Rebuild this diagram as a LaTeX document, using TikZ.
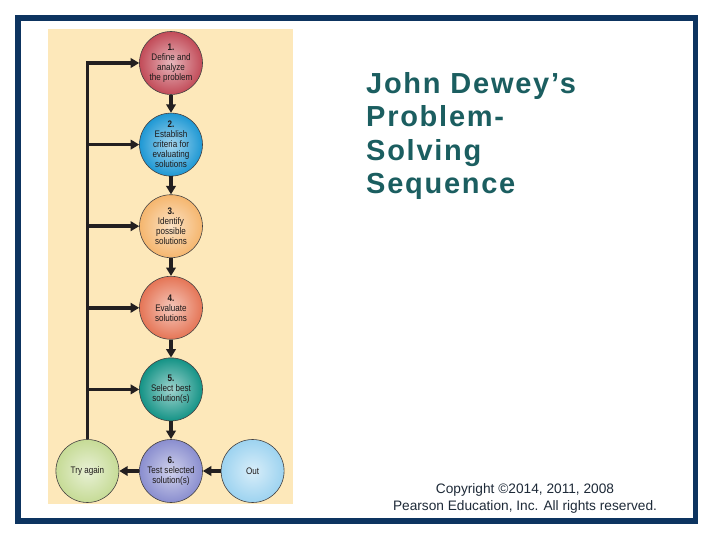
\documentclass[tikz,border=0pt]{standalone}
\usepackage{fontspec}
\setmainfont{Liberation Sans}
\newfontfamily\stepfont[FakeStretch=0.85]{Liberation Sans}
\usetikzlibrary{positioning,arrows.meta,backgrounds}
\definecolor{cFrame} {HTML}{0D3460}
\definecolor{cPanel} {HTML}{FDE8BA}
\definecolor{cLine}  {HTML}{231F20}
\definecolor{cText}  {HTML}{1E1A1A}
\definecolor{cTitle} {HTML}{1B5E60}
\definecolor{cNote}  {HTML}{1E2A38}
\definecolor{cOne}   {HTML}{C24B58}
\definecolor{cTwo}   {HTML}{1E98D4}
\definecolor{cThree} {HTML}{F5B66E}
\definecolor{cFour}  {HTML}{E57556}
\definecolor{cFive}  {HTML}{149386}
\definecolor{cSix}   {HTML}{8A8ECF}
\definecolor{cTry}   {HTML}{C6DB96}
\definecolor{cOut}   {HTML}{9DD3F0}

\begin{document}
\begin{tikzpicture}[
  x=1pt, y=-1pt,
  >={Triangle[length=8.5pt, width=9.5pt]},
  %
  stepnode/.style={
    circle, draw=cLine!85, line width=0.6pt,
    minimum size=63pt, inner sep=0pt,
    inner color=#1!40!white, outer color=#1,
    font=\stepfont\fontsize{9.5}{10}\selectfont,
    text=cText, align=center,
  },
  arr/.style={->, line width=3.4pt, draw=cLine},
]
\useasboundingbox (0,0) rectangle (720,540);

% ────────────── FRAME + PANEL ──────────────────────────────────────────────
\fill[white] (0,0) rectangle (720,540);
\draw[cFrame, line width=5.5pt] (18,18) rectangle (695.5,521);
\fill[cPanel] (48,29) rectangle (293,504);

% ────────────── STEP COLUMN ────────────────────────────────────────────────
\node[stepnode=cOne] (c1) at (171,63) {\textbf{1.}\\Define and\\analyze\\the problem};
\node[stepnode=cTwo,   below=18pt of c1] (c2) {\textbf{2.}\\Establish\\criteria for\\evaluating\\solutions};
\node[stepnode=cThree, below=18pt of c2] (c3) {\textbf{3.}\\Identify\\possible\\solutions};
\node[stepnode=cFour,  below=18pt of c3] (c4) {\textbf{4.}\\Evaluate\\solutions};
\node[stepnode=cFive,  below=18pt of c4] (c5) {\textbf{5.}\\Select best\\solution(s)};
\node[stepnode=cSix,   below=18pt of c5] (c6) {\textbf{6.}\\Test selected\\solution(s)};
\node[stepnode=cTry,   left=20pt of c6]  (try) {Try again};
\node[stepnode=cOut,   right=18pt of c6] (out) {Out};

% ────────────── ARROWS ─────────────────────────────────────────────────────
\foreach \a/\b in {c1/c2, c2/c3, c3/c4, c4/c5, c5/c6}
  \draw[arr] (\a.south) -- (\b.north);
\draw[arr] (c6.west) -- (try.east);
\draw[arr] (out.west) -- (c6.east);
% loop back from "Try again" to every step
\draw[arr] (try.north) |- (c1.west);
\foreach \s in {c2, c3, c4, c5}
  \draw[arr] (try.north |- \s.west) -- (\s.west);

% ────────────── TEXT ───────────────────────────────────────────────────────
\node[anchor=north west, align=left, text=cTitle, inner sep=0pt,
      font=\fontsize{29}{33.5}\selectfont\bfseries\addfontfeatures{LetterSpace=6}]
     (title) at (366,72) {John Dewey’s\\Problem-\\Solving\\Sequence};
\node[anchor=south, align=center, text=cNote, inner sep=0pt,
      font=\fontsize{13.7}{17}\selectfont]
     (copy) at (525,514) {Copyright ©2014, 2011, 2008\\Pearson Education, Inc. All rights reserved.};

\end{tikzpicture}
\end{document}
